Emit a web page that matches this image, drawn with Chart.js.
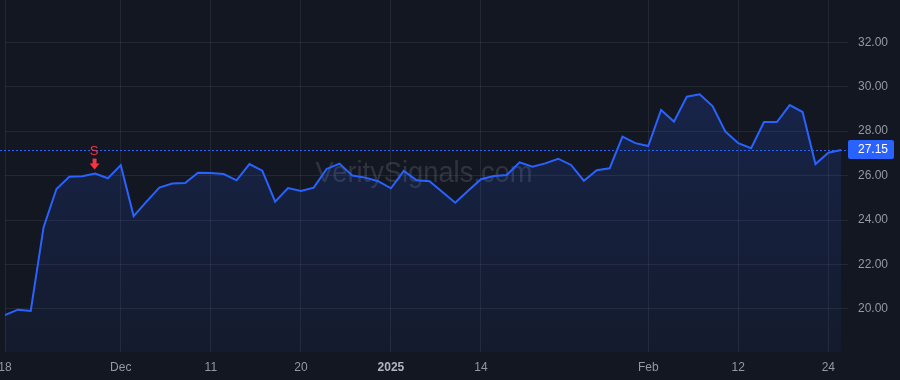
<!DOCTYPE html>
<html>
<head>
<meta charset="utf-8">
<script src="https://cdn.jsdelivr.net/npm/chart.js@4.4.1/dist/chart.umd.min.js"></script>
<style>
  html, body { margin: 0; padding: 0; background: #131722; }
  #wrap { width: 900px; height: 380px; }
</style>
</head>
<body>
<div id="wrap"><canvas id="chart" width="900" height="380"></canvas></div>
<script>
// trading days (categories)
const dates = [
    '2024-11-18','2024-11-19','2024-11-20','2024-11-21','2024-11-22','2024-11-25','2024-11-26','2024-11-27','2024-11-29',
    '2024-12-02','2024-12-03','2024-12-04','2024-12-05','2024-12-06','2024-12-09','2024-12-10','2024-12-11','2024-12-12',
    '2024-12-13','2024-12-16','2024-12-17','2024-12-18','2024-12-19','2024-12-20','2024-12-23','2024-12-24','2024-12-26',
    '2024-12-27','2024-12-30','2024-12-31',
    '2025-01-02','2025-01-03','2025-01-06','2025-01-07','2025-01-08','2025-01-10','2025-01-13','2025-01-14','2025-01-15',
    '2025-01-16','2025-01-17','2025-01-21','2025-01-22','2025-01-23','2025-01-24','2025-01-27','2025-01-28','2025-01-29',
    '2025-01-30','2025-01-31',
    '2025-02-03','2025-02-04','2025-02-05','2025-02-06','2025-02-07','2025-02-10','2025-02-11','2025-02-12','2025-02-13',
    '2025-02-14','2025-02-18','2025-02-19','2025-02-20','2025-02-21','2025-02-24','2025-02-25'
];

// close prices
const closes = [
    19.73, 19.97, 19.91, 23.68, 25.40, 25.95, 25.97, 26.09, 25.88,
    26.47, 24.18, 24.83, 25.46, 25.64, 25.67, 26.13, 26.12, 26.07,
    25.79, 26.52, 26.22, 24.83, 25.44, 25.31, 25.46, 26.30, 26.54,
    26.00, 25.91, 25.75,
    25.43, 26.21, 25.79, 25.75, 25.26, 24.78, 25.32, 25.84, 25.98,
    26.03, 26.60, 26.40, 26.55, 26.76, 26.48, 25.77, 26.24, 26.33,
    27.75, 27.46,
    27.33, 28.95, 28.43, 29.55, 29.66, 29.13, 27.98, 27.46, 27.23,
    28.41, 28.41, 29.17, 28.86, 26.52, 27.03, 27.15
];

// x axis tick labels
const tickDates = ['2024-11-18', '2024-12-02', '2024-12-11', '2024-12-20', '2025-01-02', '2025-01-14', '2025-02-03', '2025-02-12', '2025-02-24'];
const tickTexts = ['18', 'Dec', '11', '20', '2025', '14', 'Feb', '12', '24'];

// y axis tick values
const priceTicks = [20, 22, 24, 26, 28, 30, 32];

// signal markers
const signalDates = ['2024-11-27'];
const signalTexts = ['S'];

const lastPrice = closes[closes.length - 1];
const tickIdx = tickDates.map(d => dates.indexOf(d));

const BLUE = '#2962ff';
const FONT = '"Liberation Sans", Arial, sans-serif';

const points = closes.map((v, i) => ({ x: i, y: v }));

// no auto padding for overflowing tick labels
function noPad(scale) {
    scale.paddingLeft = 0;
    scale.paddingRight = 0;
    scale.paddingTop = 0;
    scale.paddingBottom = 0;
}

const extras = {
    id: 'extras',
    beforeDraw(chart) {
        const ctx = chart.ctx;
        ctx.save();
        ctx.fillStyle = '#131722';
        ctx.fillRect(0, 0, chart.width, chart.height);
        ctx.restore();
    },
    beforeDatasetsDraw(chart) {
        const { ctx } = chart;
        ctx.save();
        ctx.font = '30px ' + FONT;
        ctx.fillStyle = 'rgba(178, 181, 190, 0.18)';
        ctx.textAlign = 'center';
        ctx.textBaseline = 'alphabetic';
        ctx.fillText('VeritySignals.com', 424, 182, 217);
        ctx.restore();
    },
    afterDatasetsDraw(chart) {
        const { ctx, chartArea, scales } = chart;
        const y = Math.round(scales.y.getPixelForValue(lastPrice)) + 0.5;

        // dotted last price line
        ctx.save();
        ctx.strokeStyle = BLUE;
        ctx.lineWidth = 1;
        ctx.setLineDash([2, 2]);
        ctx.beginPath();
        ctx.moveTo(0, y);
        ctx.lineTo(chartArea.right, y);
        ctx.stroke();
        ctx.restore();

        // sell markers
        signalDates.forEach((d, k) => {
            const i = dates.indexOf(d);
            const px = scales.x.getPixelForValue(i);
            const py = scales.y.getPixelForValue(closes[i]);
            ctx.save();
            ctx.fillStyle = '#f23645';
            ctx.font = '13px ' + FONT;
            ctx.textAlign = 'center';
            ctx.textBaseline = 'middle';
            ctx.fillText(signalTexts[k], px - 1, py - 22);
            ctx.fillRect(px - 2.5, py - 15, 4, 6);
            ctx.beginPath();
            ctx.moveTo(px - 5.5, py - 10);
            ctx.lineTo(px + 4.5, py - 10);
            ctx.lineTo(px - 0.5, py - 4);
            ctx.closePath();
            ctx.fill();
            ctx.restore();
        });
    },
    afterDraw(chart) {
        const { ctx, chartArea, scales } = chart;
        const y = scales.y.getPixelForValue(lastPrice);
        ctx.save();
        ctx.fillStyle = BLUE;
        ctx.beginPath();
        ctx.roundRect(chartArea.right, y - 10, 46, 19, 2);
        ctx.fill();
        ctx.fillStyle = '#ffffff';
        ctx.font = '12px ' + FONT;
        ctx.textAlign = 'left';
        ctx.textBaseline = 'middle';
        ctx.fillText(lastPrice.toFixed(2), chartArea.right + 10, y);
        ctx.restore();
    }
};

new Chart(document.getElementById('chart'), {
    type: 'line',
    data: {
        datasets: [{
            data: points,
            borderColor: BLUE,
            borderWidth: 2,
            pointRadius: 0,
            tension: 0,
            fill: 'start',
            backgroundColor: function(context) {
                const area = context.chart.chartArea;
                if (!area) return 'rgba(41, 98, 255, 0.1)';
                const g = context.chart.ctx.createLinearGradient(0, area.top, 0, area.bottom);
                g.addColorStop(0, 'rgba(41, 98, 255, 0.22)');
                g.addColorStop(1, 'rgba(41, 98, 255, 0.05)');
                return g;
            }
        }]
    },
    options: {
        responsive: false,
        animation: false,
        layout: { padding: { left: 5, top: 0, right: 0, bottom: 0 } },
        plugins: {
            legend: { display: false },
            tooltip: { enabled: false }
        },
        scales: {
            x: {
                type: 'linear',
                min: 0,
                max: 65.53,
                afterBuildTicks: scale => {
                    scale.ticks = tickIdx.map(v => ({ value: v }));
                },
                afterFit: scale => { scale.height = 28; noPad(scale); },
                border: { display: false },
                grid: {
                    color: 'rgba(255, 255, 255, 0.07)',
                    drawTicks: false
                },
                ticks: {
                    autoSkip: false,
                    maxRotation: 0,
                    padding: 8,
                    color: function(c) { return c.tick && c.tick.value === 30 ? '#b2b5be' : '#9598a1'; },
                    font: function(c) {
                        return { family: FONT, size: 12, weight: c.tick && c.tick.value === 30 ? 'bold' : 'normal' };
                    },
                    callback: v => tickTexts[tickIdx.indexOf(v)]
                }
            },
            y: {
                position: 'right',
                min: 18.065,
                max: 33.9,
                afterBuildTicks: scale => {
                    scale.ticks = priceTicks.map(v => ({ value: v }));
                },
                afterFit: scale => { scale.width = 52; noPad(scale); },
                border: { display: false },
                grid: {
                    color: 'rgba(255, 255, 255, 0.07)',
                    drawTicks: false
                },
                ticks: {
                    padding: 10,
                    color: '#9598a1',
                    font: { family: FONT, size: 12 },
                    callback: v => v.toFixed(2)
                }
            }
        }
    },
    plugins: [extras]
});
</script>
</body>
</html>
